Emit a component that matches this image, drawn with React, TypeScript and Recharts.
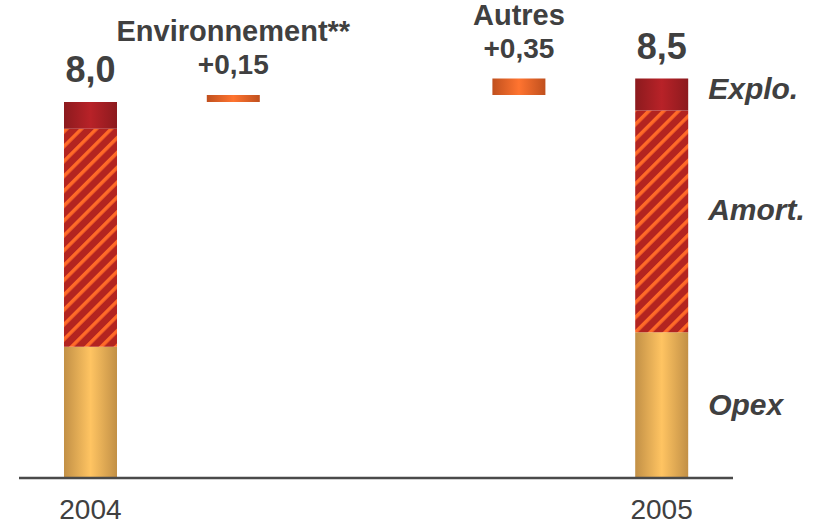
import { BarChart, Bar, XAxis, YAxis, LabelList } from "recharts";

// Cost bridge 2004 -> 2005
const categories = ["2004", "Environnement**", "", "Autres", "2005"];
const opex = [2.79, null, null, null, 3.1];
const amort = [4.64, null, null, null, 4.72];
const explo = [0.57, null, null, null, 0.68];
const deltas = [null, 0.15, null, 0.35, null];
const deltaLabels = ["", "+0,15", "", "+0,35", ""];
const totalLabels = ["8,0", "", "", "", "8,5"];
// segment names written to the right of the last bar
const segmentNames = { opex: "Opex", amort: "Amort.", explo: "Explo." };

const FONT = "Arial, 'Liberation Sans', sans-serif";
const TEXT = "#404040";
const last = categories.length - 1;

// floating bars start where the running total currently is
let running = 0;
const data = categories.map((name, i) => {
  const stack = (opex[i] ?? 0) + (amort[i] ?? 0) + (explo[i] ?? 0);
  if (stack > 0) running = stack;
  const base = deltas[i] != null ? running : null;
  if (deltas[i] != null) running += deltas[i] as number;
  return {
    name,
    opex: opex[i],
    amort: amort[i],
    explo: explo[i],
    base,
    delta: deltas[i],
    deltaName: deltas[i] != null ? name : "",
    deltaLabel: deltaLabels[i],
    totalLabel: totalLabels[i],
    opexName: i === last ? segmentNames.opex : "",
    amortName: i === last ? segmentNames.amort : "",
    exploName: i === last ? segmentNames.explo : "",
  };
});

const sideLabel = (dy: number) => (props: any) => {
  const { x, y, width, height, value } = props;
  if (!value) return null;
  return (
    <text
      x={x + width + 20}
      y={y + height / 2 + dy}
      fill={TEXT}
      fontFamily={FONT}
      fontSize={30}
      fontWeight="bold"
      fontStyle="italic"
    >
      {value}
    </text>
  );
};

const topLabel = (dy: number, size: number) => (props: any) => {
  const { x, y, width, value } = props;
  if (!value) return null;
  return (
    <text
      x={x + width / 2}
      y={y + dy}
      textAnchor="middle"
      fill={TEXT}
      fontFamily={FONT}
      fontSize={size}
      fontWeight="bold"
    >
      {value}
    </text>
  );
};

const yearTick = (props: any) => {
  const { x, y, payload } = props;
  if (payload.value !== "2004" && payload.value !== "2005") return null;
  return (
    <text
      x={x}
      y={y}
      dy={33}
      textAnchor="middle"
      fill={TEXT}
      fontFamily={FONT}
      fontSize={28}
    >
      {payload.value}
    </text>
  );
};

export default function App() {
  return (
    <div style={{ position: "absolute", left: 0, top: 0, background: "#fff" }}>
      <BarChart
        width={822}
        height={525}
        data={data}
        margin={{ top: 8, right: 89, left: 19, bottom: 7 }}
        barSize={53}
      >
        <defs>
          <linearGradient id="opexGrad" x1="0" y1="0" x2="1" y2="0">
            <stop offset="0%" stopColor="#c29046" />
            <stop offset="50%" stopColor="#ffc462" />
            <stop offset="100%" stopColor="#c29046" />
          </linearGradient>
          <linearGradient id="exploGrad" x1="0" y1="0" x2="1" y2="0">
            <stop offset="0%" stopColor="#8c1a1e" />
            <stop offset="50%" stopColor="#b82228" />
            <stop offset="100%" stopColor="#8c1a1e" />
          </linearGradient>
          <linearGradient id="deltaGrad" x1="0" y1="0" x2="1" y2="0">
            <stop offset="0%" stopColor="#c0501e" />
            <stop offset="50%" stopColor="#ff7430" />
            <stop offset="100%" stopColor="#c0501e" />
          </linearGradient>
          <pattern
            id="amortHatch"
            width={10.5}
            height={10.5}
            patternUnits="userSpaceOnUse"
            patternTransform="rotate(45)"
          >
            <rect width={10.5} height={10.5} fill="#b32420" />
            <rect width={3.5} height={10.5} fill="#ff6a28" />
          </pattern>
        </defs>
        <XAxis
          dataKey="name"
          height={40}
          axisLine={{ stroke: "#4a4a4a", strokeWidth: 2.5 }}
          tickLine={false}
          tick={yearTick}
          interval={0}
        />
        <YAxis hide domain={[0, 10]} />
        <Bar dataKey="opex" stackId="a" fill="url(#opexGrad)" isAnimationActive={false}>
          <LabelList dataKey="opexName" content={sideLabel(10)} />
        </Bar>
        <Bar dataKey="amort" stackId="a" fill="url(#amortHatch)" isAnimationActive={false}>
          <LabelList dataKey="amortName" content={sideLabel(-1)} />
        </Bar>
        <Bar dataKey="explo" stackId="a" fill="url(#exploGrad)" isAnimationActive={false}>
          <LabelList dataKey="exploName" content={sideLabel(5)} />
          <LabelList dataKey="totalLabel" content={topLabel(-20, 36)} />
        </Bar>
        <Bar dataKey="base" stackId="a" fill="transparent" isAnimationActive={false} />
        <Bar dataKey="delta" stackId="a" fill="url(#deltaGrad)" isAnimationActive={false}>
          <LabelList dataKey="deltaName" content={topLabel(-54, 29)} />
          <LabelList dataKey="deltaLabel" content={topLabel(-21, 28)} />
        </Bar>
      </BarChart>
    </div>
  );
}
